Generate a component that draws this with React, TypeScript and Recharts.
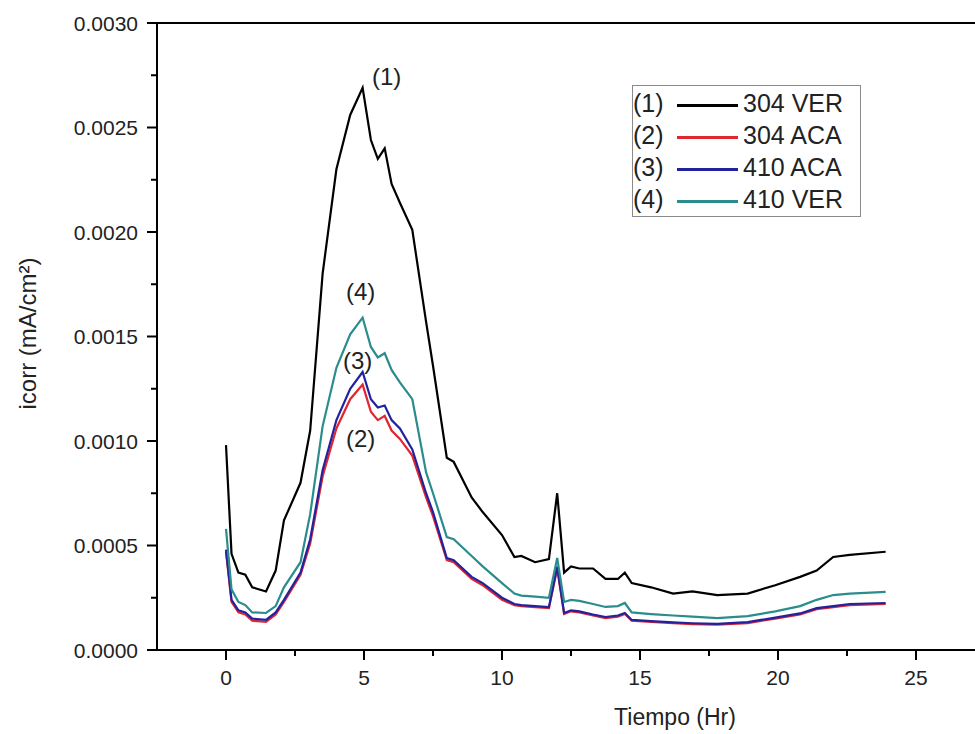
import React from "react";
import {
  CartesianGrid,
  Legend,
  Line,
  LineChart,
  ReferenceLine,
  XAxis,
  YAxis
} from "recharts";

// Tiempo (Hr)
const hours = [
  0, 0.2, 0.45, 0.7, 0.95, 1.45, 1.8, 2.1, 2.7, 3.05, 3.5, 4.0, 4.5, 4.95, 5.25,
  5.5, 5.75, 6.0, 6.3, 6.75, 7.25, 7.5, 8.0, 8.25, 8.9, 9.3, 10.0, 10.45, 10.7,
  11.2, 11.7, 12.0, 12.25, 12.5, 12.8, 13.3, 13.75, 14.2, 14.45, 14.7, 15.4,
  16.2, 16.9, 17.8, 18.9, 19.9, 20.8, 21.4, 22.0, 22.6, 23.9
];

// icorr (mA/cm²) per specimen
const ver304 = [
  0.00098, 0.00046, 0.00037, 0.00036, 0.0003, 0.00028, 0.00038, 0.00062,
  0.0008, 0.00105, 0.0018, 0.0023, 0.00256, 0.00269, 0.00244, 0.00235, 0.0024,
  0.00223, 0.00214, 0.00201, 0.00157, 0.00136, 0.00092, 0.0009, 0.00073,
  0.00066, 0.00055, 0.000445, 0.00045, 0.00042, 0.000435, 0.00075, 0.00037,
  0.0004, 0.00039, 0.00039, 0.00034, 0.00034, 0.00037, 0.00032, 0.0003,
  0.00027, 0.00028, 0.000263, 0.00027, 0.00031, 0.00035, 0.00038, 0.000445,
  0.000455, 0.00047
];
const aca304 = [
  0.00047, 0.00023, 0.00018, 0.00017, 0.00014, 0.000135, 0.00017, 0.00023,
  0.00036, 0.00051, 0.00083, 0.00106, 0.0012, 0.00127, 0.00114, 0.0011,
  0.00112, 0.00105, 0.00101, 0.00093, 0.00073, 0.00064, 0.00043, 0.00042,
  0.00034, 0.00031, 0.00024, 0.000215, 0.00021, 0.000205, 0.0002, 0.00039,
  0.000172, 0.000185, 0.00018, 0.000165, 0.000153, 0.00016, 0.000172, 0.00014,
  0.000134, 0.000128, 0.000124, 0.000121, 0.000129, 0.00015, 0.00017,
  0.000195, 0.000205, 0.000215, 0.00022
];
const aca410 = [
  0.00048, 0.00024, 0.00019, 0.00018, 0.00015, 0.000144, 0.00018, 0.00024,
  0.00037, 0.00053, 0.00086, 0.0011, 0.00125, 0.00133, 0.0012, 0.00116,
  0.00117, 0.0011, 0.00106, 0.00096, 0.00075, 0.00066, 0.00044, 0.00043,
  0.00035, 0.00032, 0.00025, 0.00022, 0.000215, 0.00021, 0.000205, 0.0004,
  0.000177, 0.00019, 0.000185, 0.00017, 0.000158, 0.000165, 0.000177, 0.000144,
  0.000138, 0.000132, 0.000128, 0.000125, 0.000133, 0.000155, 0.000175,
  0.0002, 0.00021, 0.00022, 0.000225
];
const ver410 = [
  0.00058, 0.00029, 0.00023, 0.000215, 0.00018, 0.000177, 0.00021, 0.0003,
  0.00042, 0.00065, 0.00107, 0.00135, 0.00151, 0.00159, 0.00145, 0.0014,
  0.00142, 0.00134, 0.00128, 0.0012, 0.00085, 0.00075, 0.00054, 0.00053,
  0.00045, 0.0004, 0.00032, 0.00027, 0.00026, 0.000255, 0.00025, 0.00044,
  0.00023, 0.00024, 0.000235, 0.00022, 0.000206, 0.00021, 0.000225, 0.00018,
  0.000172, 0.000165, 0.00016, 0.000153, 0.000162, 0.000185, 0.00021, 0.00024,
  0.000263, 0.00027, 0.000278
];

const seriesKeys = ["ver304", "aca304", "aca410", "ver410"];
const seriesNames = ["304 VER", "304 ACA", "410 ACA", "410 VER"];
const seriesTags = ["(1)", "(2)", "(3)", "(4)"];
const seriesValues = [ver304, aca304, aca410, ver410];

const xTicks = [0, 2.5, 5, 7.5, 10, 12.5, 15, 17.5, 20, 22.5, 25];
const yTicks = [
  0, 0.00025, 0.0005, 0.00075, 0.001, 0.00125, 0.0015, 0.00175, 0.002,
  0.00225, 0.0025, 0.00275, 0.003
];

const COLORS = ["#000000", "#e0262e", "#22229e", "#2a8c8c"];
// where each "(n)" tag sits relative to its curve's peak
const TAG_OFFSETS = [
  [24, -3],
  [-2, 62],
  [-5, -3],
  [-2, -18]
];
const FONT = "'Liberation Sans', Arial, sans-serif";

const data = hours.map((t, i) => {
  const row: Record<string, number> = { t };
  seriesKeys.forEach((k, s) => (row[k] = seriesValues[s][i]));
  return row;
});

const peakIndex = (vals: number[]) =>
  vals.reduce((best, v, i) => (v > vals[best] ? i : best), 0);

const isMajor = (v: number, step: number) =>
  Math.abs(v / step - Math.round(v / step)) < 1e-6;

const YTick = (props: any) => {
  const { x, y, payload } = props;
  const major = isMajor(payload.value, 0.0005);
  return (
    <g>
      <line x1={x - (major ? 10 : 6)} x2={x} y1={y} y2={y} stroke="#000" strokeWidth={2} />
      {major && (
        <text x={x - 19} y={y + 7.5} textAnchor="end" fontSize={21} fontFamily={FONT} fill="#222">
          {payload.value.toFixed(4)}
        </text>
      )}
    </g>
  );
};

const XTick = (props: any) => {
  const { x, y, payload } = props;
  const major = isMajor(payload.value, 5);
  return (
    <g>
      <line x1={x} x2={x} y1={y} y2={y + (major ? 10 : 6)} stroke="#000" strokeWidth={2} />
      {major && (
        <text x={x} y={y + 35} textAnchor="middle" fontSize={21} fontFamily={FONT} fill="#222">
          {payload.value}
        </text>
      )}
    </g>
  );
};

const makeTagDot = (s: number) => {
  const peak = peakIndex(seriesValues[s]);
  return (props: any) => {
    const { cx, cy, index } = props;
    if (index !== peak) return <g key={`d-${s}-${index}`} />;
    return (
      <text
        key={`d-${s}-${index}`}
        x={cx + TAG_OFFSETS[s][0]}
        y={cy + TAG_OFFSETS[s][1]}
        textAnchor="middle"
        fontSize={24}
        fontFamily={FONT}
        fill="#222"
      >
        {seriesTags[s]}
      </text>
    );
  };
};

const LegendBox = () => (
  <div
    style={{
      border: "1.5px solid #8a8a8a",
      padding: "1px 0",
      width: 227,
      fontFamily: FONT,
      fontSize: 25,
      color: "#222",
      background: "#fff"
    }}
  >
    {seriesNames.map((name, s) => (
      <div key={name} style={{ height: 32, lineHeight: "32px", whiteSpace: "nowrap" }}>
        <span style={{ display: "inline-block", width: 44 }}>{seriesTags[s]}</span>
        <span
          style={{
            display: "inline-block",
            width: 61,
            height: 3,
            background: COLORS[s],
            verticalAlign: "middle"
          }}
        />
        <span style={{ marginLeft: 5 }}>{name}</span>
      </div>
    ))}
  </div>
);

export default function App() {
  return (
    <div
      style={{
        position: "fixed",
        left: 0,
        top: 0,
        width: 975,
        height: 734,
        overflow: "hidden",
        background: "#fff"
      }}
    >
      <LineChart
        width={1100}
        height={734}
        data={data}
        margin={{ top: 23, right: 115, bottom: 0, left: 0 }}
      >
        <CartesianGrid stroke="none" />
        <XAxis
          dataKey="t"
          type="number"
          domain={[-2.5, 27.5]}
          ticks={xTicks}
          interval={0}
          height={84}
          tickSize={0}
          tickMargin={0}
          tickLine={false}
          tick={<XTick />}
          axisLine={{ stroke: "#000", strokeWidth: 2 }}
          allowDataOverflow
          label={{
            value: "Tiempo (Hr)",
            position: "insideBottom",
            offset: 9,
            dx: 104,
            fontSize: 23,
            fontFamily: FONT,
            fill: "#222"
          }}
        />
        <YAxis
          type="number"
          domain={[0, 0.003]}
          ticks={yTicks}
          interval={0}
          width={157}
          tickSize={0}
          tickMargin={0}
          tickLine={false}
          tick={<YTick />}
          axisLine={{ stroke: "#000", strokeWidth: 2 }}
          allowDataOverflow
          label={{
            content: ({ viewBox }: any) => (
              <text
                transform={`translate(36, ${viewBox.y + viewBox.height / 2 - 3}) rotate(-90)`}
                textAnchor="middle"
                fontSize={24}
                fontFamily={FONT}
                fill="#222"
              >
                icorr (mA/cm²)
              </text>
            )
          }}
        />
        <ReferenceLine y={0.003} stroke="#000" strokeWidth={2} />
        <Legend
          layout="horizontal"
          verticalAlign="middle"
          align="center"
          content={<LegendBox />}
          wrapperStyle={{ left: 632, top: 85, width: "auto" }}
        />
        {seriesKeys.map((k, s) => (
          <Line
            key={k}
            dataKey={k}
            name={seriesNames[s]}
            stroke={COLORS[s]}
            strokeWidth={2.2}
            type="linear"
            dot={makeTagDot(s)}
            activeDot={false}
            isAnimationActive={false}
          />
        ))}
      </LineChart>
    </div>
  );
}
